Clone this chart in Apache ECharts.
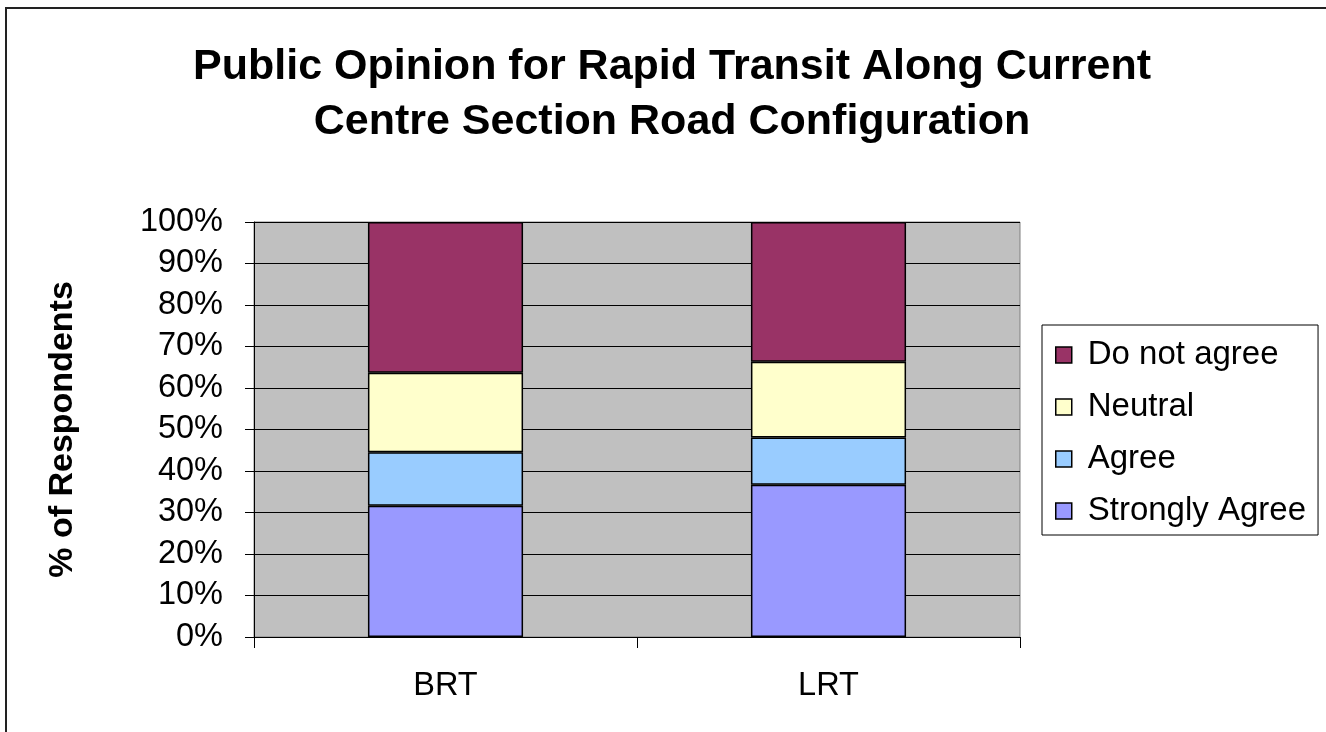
<!DOCTYPE html>
<html>
<head>
<meta charset="utf-8">
<script src="https://cdn.jsdelivr.net/npm/echarts@6/dist/echarts.min.js"></script>
<style>html,body{margin:0;padding:0;background:#fff}#c{width:1326px;height:732px}</style>
</head>
<body>
<div id="c"></div>
<script>
const categories = ['BRT', 'LRT'];
const stronglyAgree = [31.6, 36.7];
const agree = [12.9, 11.4];
const neutral = [19.2, 18.2];
const doNotAgree = [36.3, 33.7];
const legendOrder = ['Do not agree', 'Neutral', 'Agree', 'Strongly Agree'];

const font = '"Liberation Sans", Arial, sans-serif';
const chart = echarts.init(document.getElementById('c'), null, {renderer: 'canvas'});
const barStyle = (color) => ({color: color, borderColor: '#000', borderWidth: 1.5});
const mk = (name, data, color) => ({
  name: name, type: 'bar', stack: 'total', data: data, barWidth: '40.5%',
  itemStyle: barStyle(color), emphasis: {disabled: true}
});
chart.setOption({
  animation: false,
  backgroundColor: '#fff',
  graphic: [{
    type: 'polyline', shape: {points: [[6, 800], [6, 8], [1400, 8]]},
    style: {fill: 'none', stroke: '#222', lineWidth: 2}, silent: true, z: -10
  }],
  title: {
    text: 'Public Opinion for Rapid Transit Along Current\nCentre Section Road Configuration',
    left: 667, top: 35, textAlign: 'center',
    textStyle: {fontFamily: font, fontWeight: 'bold', fontSize: 43, lineHeight: 55, color: '#000'}
  },
  legend: {
    data: legendOrder, orient: 'vertical', left: 1042, top: 325,
    itemWidth: 16, itemHeight: 16, itemGap: 16,
    padding: [12, 12, 6, 13],
    borderColor: '#000', borderWidth: 1, backgroundColor: '#fff',
    icon: 'rect', selectedMode: false,
    itemStyle: {borderColor: '#000', borderWidth: 1.5},
    textStyle: {fontFamily: font, fontSize: 33, lineHeight: 36, color: '#000', padding: [0, 0, 0, 11]}
  },
  grid: {
    left: 254, right: 306, top: 222, bottom: 95,
    show: true, backgroundColor: '#C0C0C0', borderColor: '#808080', borderWidth: 1
  },
  xAxis: {
    type: 'category', data: categories,
    axisLine: {lineStyle: {color: '#000', width: 1}},
    axisTick: {show: true, length: 11, lineStyle: {color: '#000'}},
    axisLabel: {fontFamily: font, fontSize: 32.5, color: '#000', margin: 33}
  },
  yAxis: {
    type: 'value', min: 0, max: 100, interval: 10,
    name: '% of Respondents', nameLocation: 'middle', nameGap: 174, nameRotate: 90,
    nameTextStyle: {fontFamily: font, fontWeight: 'bold', fontSize: 34, color: '#000'},
    axisLine: {show: true, lineStyle: {color: '#000', width: 1}},
    axisTick: {show: true, length: 9, lineStyle: {color: '#000'}},
    axisLabel: {fontFamily: font, fontSize: 32.5, color: '#000', margin: 31, formatter: '{value}%'},
    splitLine: {show: true, lineStyle: {color: '#000', width: 1}}
  },
  series: [
    mk('Strongly Agree', stronglyAgree, '#9999FF'),
    mk('Agree', agree, '#99CCFF'),
    mk('Neutral', neutral, '#FFFFCC'),
    mk('Do not agree', doNotAgree, '#993366')
  ]
});
</script>
</body>
</html>
